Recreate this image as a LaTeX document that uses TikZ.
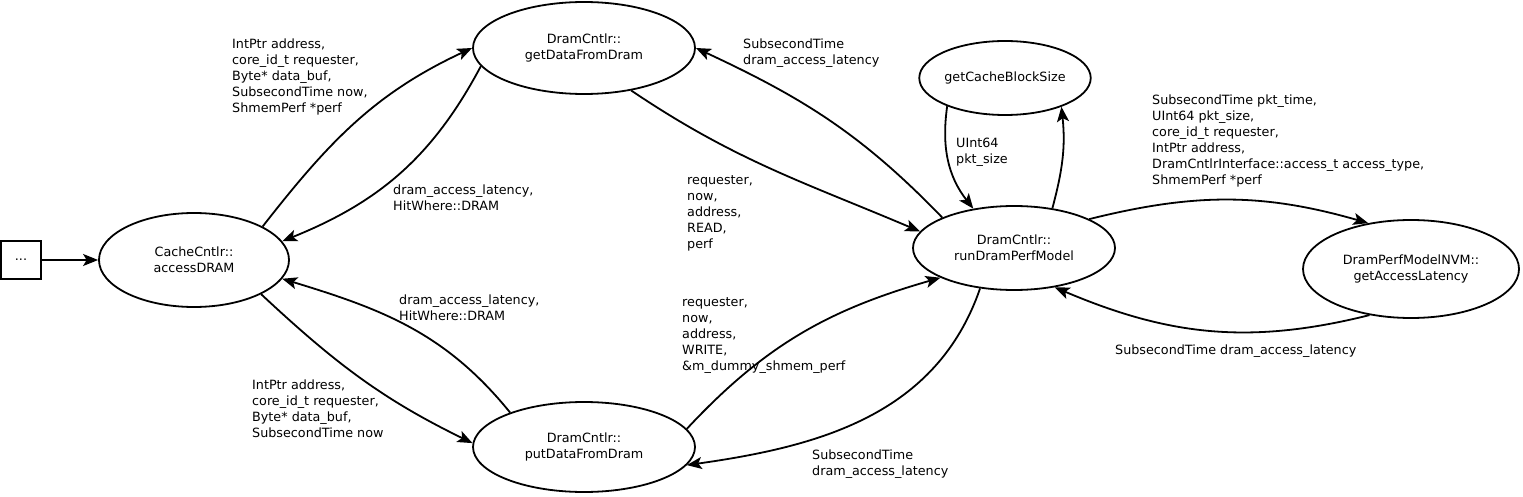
\documentclass[tikz,border=0pt]{standalone}
\usepackage{fontspec}
\setmainfont{DejaVu Sans}
\usetikzlibrary{shapes.geometric,arrows.meta}
\begin{document}
\begin{tikzpicture}[x=1pt,y=1pt,
  every node/.style={font=\fontsize{12.75}{16}\selectfont},
  ell/.style={draw,ellipse,line width=1.8pt,inner sep=0pt,align=center},
  lbl/.style={anchor=north west,inner sep=0pt,align=left},
  conn/.style={line width=1.8pt,-{Stealth[length=15pt,width=12pt,inset=3.5pt]}}]
\fill[white] (0,0) rectangle (1523,496);
\useasboundingbox (0,0) rectangle (1523,496);
% nodes
\node[draw,line width=1.8pt,minimum width=40pt,minimum height=38pt,inner sep=0pt] (box) at (21,236) {...};
\node[ell,minimum width=190pt,minimum height=94pt] (cc) at (194,236) {CacheCntlr::\\accessDRAM};
\node[ell,minimum width=222pt,minimum height=92pt] (gd) at (584,448) {DramCntlr::\\getDataFromDram};
\node[ell,minimum width=222pt,minimum height=90pt] (pd) at (584,49) {DramCntlr::\\putDataFromDram};
\node[ell,minimum width=154pt,minimum height=74pt] (cb) at (1005,418) {getCacheBlockSize};
\node[ell,minimum width=202pt,minimum height=84pt] (rd) at (1014,248) {DramCntlr::\\runDramPerfModel};
\node[ell,minimum width=216pt,minimum height=98pt] (nvm) at (1411,227) {DramPerfModelNVM::\\getAccessLatency};
% connectors
\draw[conn] (box.east) -- (cc.west);
\draw[conn] (cc.26) to[out=52,in=205] (gd.180);
\draw[conn] (gd.190) to[out=242,in=22] (cc.12);
\draw[conn] (cc.-27) to[out=-43,in=154] (pd.178);
\draw[conn] (pd.155) to[out=129,in=-17] (cc.-12);
\draw[conn] (rd.157) to[out=134,in=-25] (gd.0);
\draw[conn] (gd.-42) to[out=-34,in=157] (rd.170);
\draw[conn] (pd.10) to[out=47,in=196] (rd.202);
\draw[conn] (rd.230) to[out=251,in=8] (pd.-10);
\draw[conn] (cb.206) to[out=262,in=128] (rd.136);
\draw[conn] (rd.46) to[out=75,in=-84] (cb.-27);
\draw[conn] (rd.21) to[out=14,in=164] (nvm.133);
\draw[conn] (nvm.228) to[out=194,in=-23] (rd.-44);
% labels
\node[lbl] (l1) at (232,457.7) {IntPtr address,\\core\_id\_t requester,\\Byte* data\_buf,\\SubsecondTime now,\\ShmemPerf *perf};
\node[lbl] (l2) at (393,311.7) {dram\_access\_latency,\\HitWhere::DRAM};
\node[lbl] (l3) at (399,201.7) {dram\_access\_latency,\\HitWhere::DRAM};
\node[lbl] (l4) at (252,116.7) {IntPtr address,\\core\_id\_t requester,\\Byte* data\_buf,\\SubsecondTime now};
\node[lbl] (l5) at (743,457.7) {SubsecondTime\\dram\_access\_latency};
\node[lbl] (l6) at (687,320.7) {requester,\\now,\\address,\\READ,\\perf};
\node[lbl] (l7) at (682,198.7) {requester,\\now,\\address,\\WRITE,\\\&m\_dummy\_shmem\_perf};
\node[lbl] (l8) at (812,46.7) {SubsecondTime\\dram\_access\_latency};
\node[lbl] (l9) at (956,357.7) {UInt64\\pkt\_size};
\node[lbl] (l10) at (1152,401.7) {SubsecondTime pkt\_time,\\UInt64 pkt\_size,\\core\_id\_t requester,\\IntPtr address,\\DramCntlrInterface::access\_t access\_type,\\ShmemPerf *perf};
\node[lbl] (l11) at (1115,151.7) {SubsecondTime dram\_access\_latency};
\end{tikzpicture}
\end{document}
